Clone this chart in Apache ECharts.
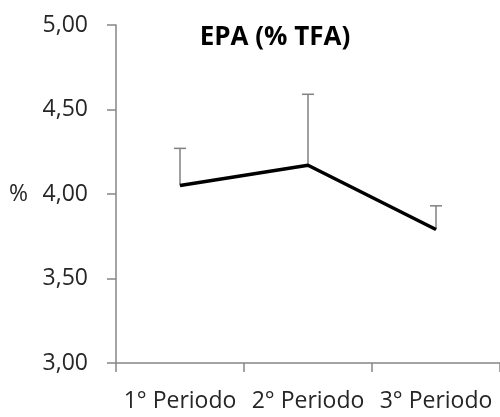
<!DOCTYPE html>
<html>
<head>
<meta charset="utf-8">
<script src="https://cdn.jsdelivr.net/npm/echarts@6/dist/echarts.min.js"></script>
<style>
  html, body { margin: 0; padding: 0; background: #fff; }
  #chart { width: 500px; height: 417px; }
</style>
</head>
<body>
<div id="chart"></div>
<script>
// EPA as share of total fatty acids, by period
const categories = ['1° Periodo', '2° Periodo', '3° Periodo'];
const means = [4.05, 4.17, 3.79];
const upperBounds = [4.27, 4.59, 3.93];
const yTicks = [3.0, 3.5, 4.0, 4.5, 5.0];

const FONT = '"Open Sans", sans-serif';
const AXIS_GREY = '#868686';
const LABEL = '#262626';

const errorData = categories.map((c, i) => [i, means[i], upperBounds[i]]);

const chart = echarts.init(document.getElementById('chart'), null, { renderer: 'canvas' });

chart.setOption({
  animation: false,
  backgroundColor: '#ffffff',
  title: {
    text: 'EPA (% TFA)',
    left: 270,
    top: 20,
    textAlign: 'center',
    textStyle: { fontFamily: FONT, fontWeight: 'bold', fontSize: 26, color: '#000' }
  },
  grid: { left: 116, right: -6, top: 25, bottom: 54, containLabel: false },
  xAxis: {
    type: 'category',
    data: categories,
    boundaryGap: true,
    axisLine: { lineStyle: { color: AXIS_GREY, width: 1.5 } },
    axisTick: { show: true, length: 9, lineStyle: { color: AXIS_GREY, width: 1.5 } },
    axisLabel: { interval: 0, fontFamily: FONT, fontSize: 23, color: LABEL, margin: 27 }
  },
  yAxis: {
    type: 'value',
    min: yTicks[0],
    max: yTicks[yTicks.length - 1],
    interval: 0.5,
    name: '%',
    nameLocation: 'middle',
    nameRotate: 0,
    nameGap: 88,
    nameTextStyle: { fontFamily: FONT, fontSize: 23, color: LABEL },
    splitLine: { show: false },
    axisLine: { show: true, lineStyle: { color: AXIS_GREY, width: 1.5 } },
    axisTick: { show: true, length: 9, lineStyle: { color: AXIS_GREY, width: 1.5 } },
    axisLabel: {
      fontFamily: FONT, fontSize: 23, color: LABEL, margin: 28,
      formatter: v => v.toFixed(2).replace('.', ',')
    }
  },
  series: [
    {
      type: 'custom',
      z: 1,
      data: errorData,
      renderItem: (params, api) => {
        const base = api.coord([api.value(0), api.value(1)]);
        const top = api.coord([api.value(0), api.value(2)]);
        const half = 6;
        const style = { stroke: '#808080', lineWidth: 1.5 };
        return {
          type: 'group',
          children: [
            { type: 'line', shape: { x1: base[0], y1: base[1], x2: top[0], y2: top[1] }, style },
            { type: 'line', shape: { x1: top[0] - half, y1: top[1], x2: top[0] + half, y2: top[1] }, style }
          ]
        };
      }
    },
    {
      type: 'line',
      z: 2,
      data: means,
      showSymbol: false,
      symbol: 'none',
      lineStyle: { color: '#000', width: 3.5 }
    }
  ]
});
</script>
</body>
</html>
